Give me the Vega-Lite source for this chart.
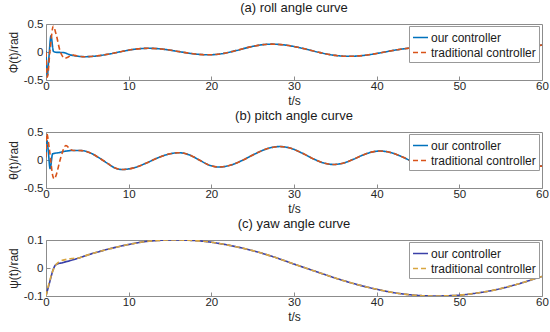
{
  "$schema": "https://vega.github.io/schema/vega-lite/v6.json",
  "padding": {"left": 6, "top": 1, "right": 0, "bottom": 0},
  "spacing": 2,
  "datasets": {
    "roll": [
      {"t":0,"v":0.02,"c":"our controller"},{"t":0.16,"v":-0.42,"c":"our controller"},{"t":0.35,"v":-0.1,"c":"our controller"},{"t":0.6,"v":0.29,"c":"our controller"},{"t":0.9,"v":0.01,"c":"our controller"},{"t":1.2,"v":-0.005,"c":"our controller"},{"t":2.1,"v":-0.01,"c":"our controller"},{"t":2.9,"v":-0.05,"c":"our controller"},
      {"t":4,"v":-0.078,"c":"our controller"},{"t":4.7,"v":-0.084,"c":"our controller"},{"t":6,"v":-0.073,"c":"our controller"},{"t":7.5,"v":-0.04,"c":"our controller"},{"t":9,"v":0.004,"c":"our controller"},{"t":10.5,"v":0.045,"c":"our controller"},{"t":11.5,"v":0.061,"c":"our controller"},{"t":12.4,"v":0.066,"c":"our controller"},{"t":14,"v":0.053,"c":"our controller"},{"t":16,"v":0.009,"c":"our controller"},{"t":18,"v":-0.035,"c":"our controller"},{"t":19.7,"v":-0.05,"c":"our controller"},{"t":21.5,"v":-0.025,"c":"our controller"},{"t":23,"v":0.026,"c":"our controller"},{"t":25,"v":0.1,"c":"our controller"},{"t":26.3,"v":0.132,"c":"our controller"},{"t":27.3,"v":0.14,"c":"our controller"},{"t":29,"v":0.123,"c":"our controller"},{"t":31,"v":0.066,"c":"our controller"},{"t":33,"v":-0.006,"c":"our controller"},{"t":35,"v":-0.061,"c":"our controller"},{"t":36.6,"v":-0.077,"c":"our controller"},{"t":38.5,"v":-0.06,"c":"our controller"},{"t":40.5,"v":-0.013,"c":"our controller"},{"t":42.5,"v":0.04,"c":"our controller"},{"t":44,"v":0.069,"c":"our controller"},{"t":45.5,"v":0.08,"c":"our controller"},{"t":48,"v":0.05,"c":"our controller"},{"t":50,"v":-0.005,"c":"our controller"},{"t":52,"v":-0.045,"c":"our controller"},{"t":53.5,"v":-0.05,"c":"our controller"},{"t":55,"v":-0.025,"c":"our controller"},{"t":57,"v":0.04,"c":"our controller"},{"t":59,"v":0.1,"c":"our controller"},{"t":60,"v":0.125,"c":"our controller"},
      {"t":0,"v":0,"c":"traditional controller"},{"t":0.15,"v":-0.45,"c":"traditional controller"},{"t":0.5,"v":0.05,"c":"traditional controller"},{"t":0.88,"v":0.46,"c":"traditional controller"},{"t":1.2,"v":0.33,"c":"traditional controller"},{"t":1.7,"v":0.02,"c":"traditional controller"},{"t":2.3,"v":-0.11,"c":"traditional controller"},{"t":2.7,"v":-0.09,"c":"traditional controller"},{"t":3.1,"v":-0.05,"c":"traditional controller"},{"t":3.5,"v":-0.06,"c":"traditional controller"},
      {"t":4,"v":-0.078,"c":"traditional controller"},{"t":4.7,"v":-0.084,"c":"traditional controller"},{"t":6,"v":-0.073,"c":"traditional controller"},{"t":7.5,"v":-0.04,"c":"traditional controller"},{"t":9,"v":0.004,"c":"traditional controller"},{"t":10.5,"v":0.045,"c":"traditional controller"},{"t":11.5,"v":0.061,"c":"traditional controller"},{"t":12.4,"v":0.066,"c":"traditional controller"},{"t":14,"v":0.053,"c":"traditional controller"},{"t":16,"v":0.009,"c":"traditional controller"},{"t":18,"v":-0.035,"c":"traditional controller"},{"t":19.7,"v":-0.05,"c":"traditional controller"},{"t":21.5,"v":-0.025,"c":"traditional controller"},{"t":23,"v":0.026,"c":"traditional controller"},{"t":25,"v":0.1,"c":"traditional controller"},{"t":26.3,"v":0.132,"c":"traditional controller"},{"t":27.3,"v":0.14,"c":"traditional controller"},{"t":29,"v":0.123,"c":"traditional controller"},{"t":31,"v":0.066,"c":"traditional controller"},{"t":33,"v":-0.006,"c":"traditional controller"},{"t":35,"v":-0.061,"c":"traditional controller"},{"t":36.6,"v":-0.077,"c":"traditional controller"},{"t":38.5,"v":-0.06,"c":"traditional controller"},{"t":40.5,"v":-0.013,"c":"traditional controller"},{"t":42.5,"v":0.04,"c":"traditional controller"},{"t":44,"v":0.069,"c":"traditional controller"},{"t":45.5,"v":0.08,"c":"traditional controller"},{"t":48,"v":0.05,"c":"traditional controller"},{"t":50,"v":-0.005,"c":"traditional controller"},{"t":52,"v":-0.045,"c":"traditional controller"},{"t":53.5,"v":-0.05,"c":"traditional controller"},{"t":55,"v":-0.025,"c":"traditional controller"},{"t":57,"v":0.04,"c":"traditional controller"},{"t":59,"v":0.1,"c":"traditional controller"},{"t":60,"v":0.125,"c":"traditional controller"}
    ],
    "pitch": [
      {"t":0,"v":0.05,"c":"our controller"},{"t":0.1,"v":0.35,"c":"our controller"},{"t":0.25,"v":0.2,"c":"our controller"},{"t":0.5,"v":-0.155,"c":"our controller"},{"t":0.8,"v":0.11,"c":"our controller"},{"t":1.5,"v":0.13,"c":"our controller"},{"t":2.5,"v":0.16,"c":"our controller"},
      {"t":3.3,"v":0.17,"c":"our controller"},{"t":4.3,"v":0.168,"c":"our controller"},{"t":5.3,"v":0.13,"c":"our controller"},{"t":6.3,"v":0.05,"c":"our controller"},{"t":7.5,"v":-0.066,"c":"our controller"},{"t":8.3,"v":-0.14,"c":"our controller"},{"t":9.2,"v":-0.17,"c":"our controller"},{"t":10.5,"v":-0.145,"c":"our controller"},{"t":12,"v":-0.064,"c":"our controller"},{"t":13.5,"v":0.037,"c":"our controller"},{"t":15,"v":0.111,"c":"our controller"},{"t":16.1,"v":0.13,"c":"our controller"},{"t":17.3,"v":0.093,"c":"our controller"},{"t":18.5,"v":0.003,"c":"our controller"},{"t":19.7,"v":-0.088,"c":"our controller"},{"t":20.9,"v":-0.125,"c":"our controller"},{"t":22.3,"v":-0.094,"c":"our controller"},{"t":23.8,"v":-0.003,"c":"our controller"},{"t":25.3,"v":0.11,"c":"our controller"},{"t":26.8,"v":0.204,"c":"our controller"},{"t":28.3,"v":0.24,"c":"our controller"},{"t":29.6,"v":0.21,"c":"our controller"},{"t":31,"v":0.122,"c":"our controller"},{"t":32.3,"v":0.024,"c":"our controller"},{"t":33.6,"v":-0.054,"c":"our controller"},{"t":34.8,"v":-0.08,"c":"our controller"},{"t":36,"v":-0.054,"c":"our controller"},{"t":37.2,"v":0.014,"c":"our controller"},{"t":38.4,"v":0.092,"c":"our controller"},{"t":39.5,"v":0.145,"c":"our controller"},{"t":40.4,"v":0.16,"c":"our controller"},{"t":41.8,"v":0.129,"c":"our controller"},{"t":43.2,"v":0.049,"c":"our controller"},{"t":44.6,"v":-0.052,"c":"our controller"},{"t":46,"v":-0.135,"c":"our controller"},{"t":47.5,"v":-0.17,"c":"our controller"},{"t":48.8,"v":-0.142,"c":"our controller"},{"t":50.1,"v":-0.07,"c":"our controller"},{"t":51.4,"v":0.02,"c":"our controller"},{"t":52.7,"v":0.092,"c":"our controller"},{"t":54,"v":0.12,"c":"our controller"},{"t":55.3,"v":0.09,"c":"our controller"},{"t":56.6,"v":0.02,"c":"our controller"},{"t":57.9,"v":-0.05,"c":"our controller"},{"t":59,"v":-0.095,"c":"our controller"},{"t":60,"v":-0.11,"c":"our controller"},
      {"t":0,"v":0.05,"c":"traditional controller"},{"t":0.1,"v":0.47,"c":"traditional controller"},{"t":0.4,"v":0.2,"c":"traditional controller"},{"t":0.85,"v":-0.3,"c":"traditional controller"},{"t":1.0,"v":-0.34,"c":"traditional controller"},{"t":1.15,"v":-0.3,"c":"traditional controller"},{"t":1.8,"v":0.05,"c":"traditional controller"},{"t":2.4,"v":0.26,"c":"traditional controller"},{"t":3.0,"v":0.185,"c":"traditional controller"},
      {"t":3.3,"v":0.17,"c":"traditional controller"},{"t":4.3,"v":0.168,"c":"traditional controller"},{"t":5.3,"v":0.13,"c":"traditional controller"},{"t":6.3,"v":0.05,"c":"traditional controller"},{"t":7.5,"v":-0.066,"c":"traditional controller"},{"t":8.3,"v":-0.14,"c":"traditional controller"},{"t":9.2,"v":-0.17,"c":"traditional controller"},{"t":10.5,"v":-0.145,"c":"traditional controller"},{"t":12,"v":-0.064,"c":"traditional controller"},{"t":13.5,"v":0.037,"c":"traditional controller"},{"t":15,"v":0.111,"c":"traditional controller"},{"t":16.1,"v":0.13,"c":"traditional controller"},{"t":17.3,"v":0.093,"c":"traditional controller"},{"t":18.5,"v":0.003,"c":"traditional controller"},{"t":19.7,"v":-0.088,"c":"traditional controller"},{"t":20.9,"v":-0.125,"c":"traditional controller"},{"t":22.3,"v":-0.094,"c":"traditional controller"},{"t":23.8,"v":-0.003,"c":"traditional controller"},{"t":25.3,"v":0.11,"c":"traditional controller"},{"t":26.8,"v":0.204,"c":"traditional controller"},{"t":28.3,"v":0.24,"c":"traditional controller"},{"t":29.6,"v":0.21,"c":"traditional controller"},{"t":31,"v":0.122,"c":"traditional controller"},{"t":32.3,"v":0.024,"c":"traditional controller"},{"t":33.6,"v":-0.054,"c":"traditional controller"},{"t":34.8,"v":-0.08,"c":"traditional controller"},{"t":36,"v":-0.054,"c":"traditional controller"},{"t":37.2,"v":0.014,"c":"traditional controller"},{"t":38.4,"v":0.092,"c":"traditional controller"},{"t":39.5,"v":0.145,"c":"traditional controller"},{"t":40.4,"v":0.16,"c":"traditional controller"},{"t":41.8,"v":0.129,"c":"traditional controller"},{"t":43.2,"v":0.049,"c":"traditional controller"},{"t":44.6,"v":-0.052,"c":"traditional controller"},{"t":46,"v":-0.135,"c":"traditional controller"},{"t":47.5,"v":-0.17,"c":"traditional controller"},{"t":48.8,"v":-0.142,"c":"traditional controller"},{"t":50.1,"v":-0.07,"c":"traditional controller"},{"t":51.4,"v":0.02,"c":"traditional controller"},{"t":52.7,"v":0.092,"c":"traditional controller"},{"t":54,"v":0.12,"c":"traditional controller"},{"t":55.3,"v":0.09,"c":"traditional controller"},{"t":56.6,"v":0.02,"c":"traditional controller"},{"t":57.9,"v":-0.05,"c":"traditional controller"},{"t":59,"v":-0.095,"c":"traditional controller"},{"t":60,"v":-0.11,"c":"traditional controller"}
    ],
    "yaw": [
      {"t":0,"v":-0.1,"c":"our controller"},{"t":0.45,"v":-0.05,"c":"our controller"},{"t":0.9,"v":-0.003,"c":"our controller"},{"t":1.2,"v":0.012,"c":"our controller"},{"t":2,"v":0.019,"c":"our controller"},{"t":3,"v":0.027,"c":"our controller"},
      {"t":4,"v":0.036,"c":"our controller"},{"t":5,"v":0.046,"c":"our controller"},{"t":7.5,"v":0.067,"c":"our controller"},{"t":10,"v":0.084,"c":"our controller"},{"t":12.5,"v":0.096,"c":"our controller"},{"t":15.5,"v":0.1,"c":"our controller"},{"t":18,"v":0.098,"c":"our controller"},{"t":20,"v":0.092,"c":"our controller"},{"t":22.5,"v":0.079,"c":"our controller"},{"t":25,"v":0.062,"c":"our controller"},{"t":27.5,"v":0.04,"c":"our controller"},{"t":30,"v":0.014,"c":"our controller"},{"t":32.5,"v":-0.011,"c":"our controller"},{"t":35,"v":-0.036,"c":"our controller"},{"t":37.5,"v":-0.058,"c":"our controller"},{"t":40,"v":-0.076,"c":"our controller"},{"t":42.5,"v":-0.09,"c":"our controller"},{"t":45,"v":-0.098,"c":"our controller"},{"t":47,"v":-0.1,"c":"our controller"},{"t":49.5,"v":-0.098,"c":"our controller"},{"t":52,"v":-0.09,"c":"our controller"},{"t":54.5,"v":-0.077,"c":"our controller"},{"t":57,"v":-0.058,"c":"our controller"},{"t":60,"v":-0.03,"c":"our controller"},
      {"t":0,"v":-0.1,"c":"traditional controller"},{"t":0.5,"v":-0.04,"c":"traditional controller"},{"t":0.9,"v":-0.005,"c":"traditional controller"},{"t":1.3,"v":0.015,"c":"traditional controller"},{"t":1.7,"v":0.024,"c":"traditional controller"},{"t":2.5,"v":0.031,"c":"traditional controller"},{"t":3.2,"v":0.034,"c":"traditional controller"},
      {"t":4,"v":0.036,"c":"traditional controller"},{"t":5,"v":0.046,"c":"traditional controller"},{"t":7.5,"v":0.067,"c":"traditional controller"},{"t":10,"v":0.084,"c":"traditional controller"},{"t":12.5,"v":0.096,"c":"traditional controller"},{"t":15.5,"v":0.1,"c":"traditional controller"},{"t":18,"v":0.098,"c":"traditional controller"},{"t":20,"v":0.092,"c":"traditional controller"},{"t":22.5,"v":0.079,"c":"traditional controller"},{"t":25,"v":0.062,"c":"traditional controller"},{"t":27.5,"v":0.04,"c":"traditional controller"},{"t":30,"v":0.014,"c":"traditional controller"},{"t":32.5,"v":-0.011,"c":"traditional controller"},{"t":35,"v":-0.036,"c":"traditional controller"},{"t":37.5,"v":-0.058,"c":"traditional controller"},{"t":40,"v":-0.076,"c":"traditional controller"},{"t":42.5,"v":-0.09,"c":"traditional controller"},{"t":45,"v":-0.098,"c":"traditional controller"},{"t":47,"v":-0.1,"c":"traditional controller"},{"t":49.5,"v":-0.098,"c":"traditional controller"},{"t":52,"v":-0.09,"c":"traditional controller"},{"t":54.5,"v":-0.077,"c":"traditional controller"},{"t":57,"v":-0.058,"c":"traditional controller"},{"t":60,"v":-0.03,"c":"traditional controller"}
    ]
  },
  "vconcat": [
    {
      "title": "(a) roll angle curve",
      "width": 496, "height": 56,
      "data": {"name": "roll"},
      "mark": {"type": "line", "interpolate": "monotone", "strokeWidth": 1.6, "clip": true},
      "encoding": {
        "x": {"field": "t", "type": "quantitative", "scale": {"domain": [0, 60], "nice": false}, "axis": {"values": [0,10,20,30,40,50,60], "title": "t/s"}},
        "y": {"field": "v", "type": "quantitative", "scale": {"domain": [-0.5, 0.5], "nice": false}, "axis": {"values": [-0.5,0,0.5], "labelExpr": "'' + datum.value", "title": "Φ(t)/rad"}},
        "color": {"field": "c", "type": "nominal", "scale": {"domain": ["our controller","traditional controller"], "range": ["#0072BD","#D95319"]}, "legend": {"title": null, "orient": "none", "legendX": 363, "legendY": 2}},
        "strokeDash": {"field": "c", "type": "nominal", "scale": {"domain": ["our controller","traditional controller"], "range": [[1,0],[5,3]]}, "legend": {"title": null, "orient": "none", "legendX": 363, "legendY": 2}}
      }
    },
    {
      "title": "(b) pitch angle curve",
      "width": 496, "height": 56,
      "data": {"name": "pitch"},
      "mark": {"type": "line", "interpolate": "monotone", "strokeWidth": 1.6, "clip": true},
      "encoding": {
        "x": {"field": "t", "type": "quantitative", "scale": {"domain": [0, 60], "nice": false}, "axis": {"values": [0,10,20,30,40,50,60], "title": "t/s"}},
        "y": {"field": "v", "type": "quantitative", "scale": {"domain": [-0.5, 0.5], "nice": false}, "axis": {"values": [-0.5,0,0.5], "labelExpr": "'' + datum.value", "title": "θ(t)/rad"}},
        "color": {"field": "c", "type": "nominal", "scale": {"domain": ["our controller","traditional controller"], "range": ["#0072BD","#D95319"]}, "legend": {"title": null, "orient": "none", "legendX": 363, "legendY": 2}},
        "strokeDash": {"field": "c", "type": "nominal", "scale": {"domain": ["our controller","traditional controller"], "range": [[1,0],[5,3]]}, "legend": {"title": null, "orient": "none", "legendX": 363, "legendY": 2}}
      }
    },
    {
      "title": "(c) yaw angle curve",
      "width": 496, "height": 56,
      "data": {"name": "yaw"},
      "mark": {"type": "line", "interpolate": "monotone", "strokeWidth": 1.6, "clip": true},
      "encoding": {
        "x": {"field": "t", "type": "quantitative", "scale": {"domain": [0, 60], "nice": false}, "axis": {"values": [0,10,20,30,40,50,60], "title": "t/s"}},
        "y": {"field": "v", "type": "quantitative", "scale": {"domain": [-0.1, 0.1], "nice": false}, "axis": {"values": [-0.1,0,0.1], "labelExpr": "'' + datum.value", "title": "ψ(t)/rad"}},
        "color": {"field": "c", "type": "nominal", "scale": {"domain": ["our controller","traditional controller"], "range": ["#3A40A8","#D9A640"]}, "legend": {"title": null, "orient": "none", "legendX": 363, "legendY": 2}},
        "strokeDash": {"field": "c", "type": "nominal", "scale": {"domain": ["our controller","traditional controller"], "range": [[1,0],[5,3]]}, "legend": {"title": null, "orient": "none", "legendX": 363, "legendY": 2}}
      }
    }
  ],
  "resolve": {"scale": {"x": "independent", "y": "independent", "color": "independent", "strokeDash": "independent"}},
  "config": {
    "font": "Liberation Sans",
    "view": {"stroke": "#8c8c8c", "strokeWidth": 1},
    "axis": {"domain": false, "grid": false, "labelFlush": false, "tickColor": "#8c8c8c", "tickSize": -4, "labelPadding": 7, "labelFontSize": 11.5, "labelColor": "#262626", "titleFontSize": 12, "titleFontWeight": "normal", "titleColor": "#262626", "titlePadding": 3, "labelFont": "Liberation Sans", "titleFont": "Liberation Sans"},
    "axisX": {"labelPadding": 4, "titlePadding": 4},
    "title": {"fontSize": 13, "fontWeight": "normal", "color": "#1a1a1a", "offset": 3, "frame": "group", "font": "Liberation Sans"},
    "legend": {"fillColor": "white", "strokeColor": "#999999", "padding": 3, "labelFontSize": 12, "labelColor": "#1a1a1a", "labelFont": "Liberation Sans", "symbolSize": 225, "symbolStrokeWidth": 1.6, "rowPadding": 0, "labelOffset": 2, "symbolType": "stroke"}
  }
}
